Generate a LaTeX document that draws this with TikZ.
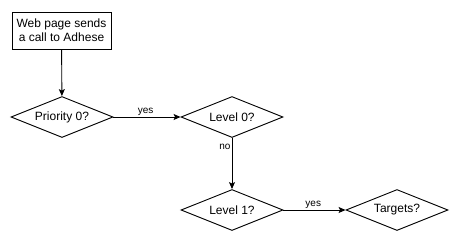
\documentclass[tikz,border=0pt]{standalone}
\usepackage{fontspec}
\setmainfont{Liberation Sans}
\usetikzlibrary{shapes.geometric,arrows.meta}
\begin{document}
\begin{tikzpicture}[x=1pt,y=-1pt,
  every path/.style={line width=0.9pt},
  procbox/.style={draw,rectangle,minimum width=99pt,minimum height=37pt,inner sep=0pt,align=center,font=\fontsize{12}{14}\selectfont},
  decision/.style={draw,diamond,aspect=2.5,minimum width=102pt,minimum height=41pt,inner sep=0pt,font=\fontsize{12}{14}\selectfont},
  flow/.style={-{Stealth[length=7pt,width=6pt,inset=1.5pt]}},
  lbl/.style={font=\fontsize{10}{12}\selectfont,inner sep=1pt}]
\useasboundingbox (0,0) rectangle (458,242);
\node[procbox] (start) at (61.5,30.5) {Web page sends\\a call to Adhese};
\node[decision] (p0) at (62,117) {Priority 0?};
\node[decision] (l0) at (232,117) {Level 0?};
\node[decision] (l1) at (232,210) {Level 1?};
\node[decision] (tg) at (397,210) {Targets?};
\draw[flow] (start) -- (p0);
\draw[flow] (p0) -- node[lbl,above,pos=0.48] {yes} (l0);
\draw[flow] (l0) -- node[lbl,left,pos=0.18] {no} (l1);
\draw[flow] (l1) -- node[lbl,above,pos=0.48] {yes} (tg);
\end{tikzpicture}
\end{document}
